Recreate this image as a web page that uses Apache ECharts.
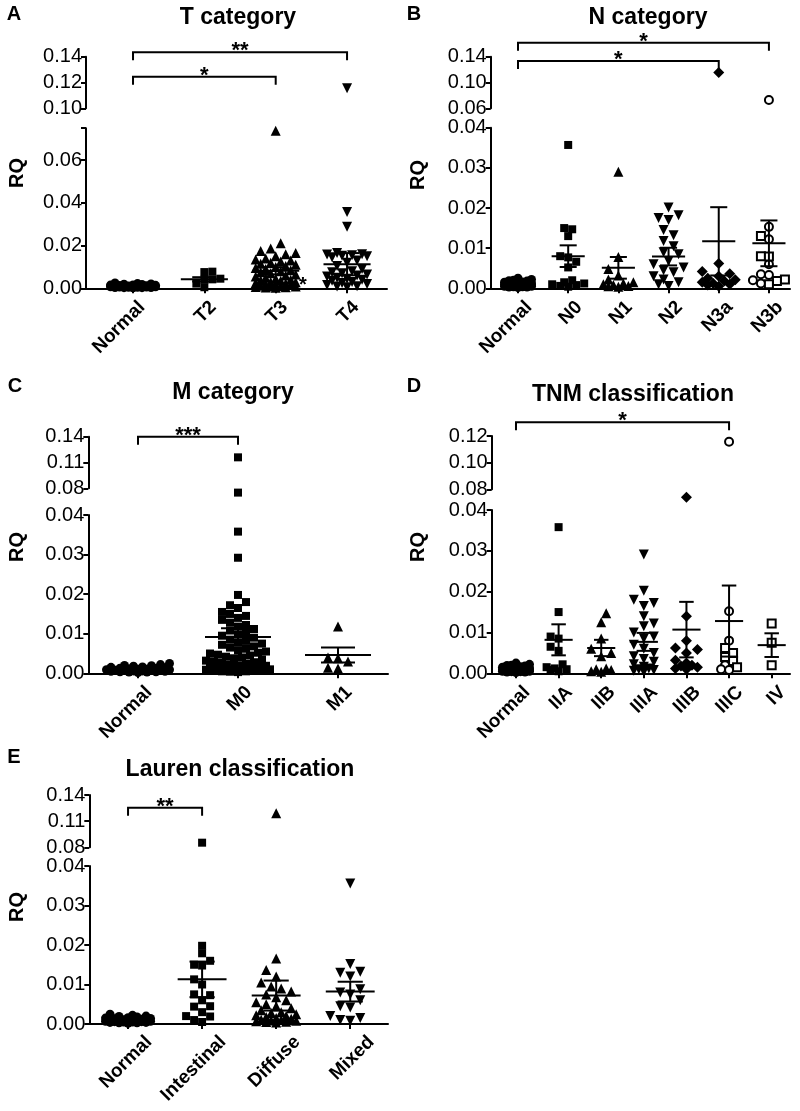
<!DOCTYPE html>
<html><head><meta charset="utf-8">
<script src="https://cdn.jsdelivr.net/npm/echarts@6/dist/echarts.min.js"></script>
<style>html,body{margin:0;padding:0;background:#fff}#c{width:800px;height:1111px}</style>
</head><body><div id="c"></div>
<script>
// ================= DATA =================
const normalRQ = [0.0025,0.0022,0.0020,0.0019,0.0018,0.0016,0.0015,0.0014,0.0013,0.0012,0.0011,0.0010,0.0010,0.0009,0.0009,0.0008,0.0008,0.0007,0.0007,0.0006,0.0006,0.0005,0.0005,0.0004,0.0004,0.0003,0.0003,0.0002];

// A - T category
const tCategories = ['Normal','T2','T3','T4'];
const tT2 = [0.0078,0.0076,0.0045,0.0042,0.0040,0.0022,0.0005];
const tT3 = [0.0738,0.0211,0.0187,0.0175,0.0165,0.0160,0.0150,0.0140,0.0135,0.0130,0.0125,0.0120,0.0115,0.0110,0.0105,0.0100,0.0095,0.0090,0.0085,0.0080,0.0075,0.0070,0.0065,0.0060,0.0055,0.0050,0.0045,0.0040,0.0038,0.0035,0.0030,0.0028,0.0025,0.0022,0.0020,0.0018,0.0015,0.0012,0.0010,0.0009,0.0008,0.0006,0.0005,0.0004,0.0003];
const tT4 = [0.1155,0.0358,0.0288,0.0165,0.0160,0.0158,0.0155,0.0152,0.0150,0.0145,0.0130,0.0120,0.0105,0.0090,0.0080,0.0075,0.0070,0.0065,0.0060,0.0055,0.0050,0.0045,0.0040,0.0035,0.0030,0.0025,0.0020,0.0015,0.0010,0.0008,0.0005];
const tMeans = [0.0009,0.0042,0.0082,0.0113];
const tSems  = [0.0001,0.0010,0.0017,0.0052];
const tBrackets = [[0,3,0.1434],[0,2,0.1245]];
const tStars = ['**','*'];
const tUpperTicks = [0.10,0.12,0.14];
const tLowerTicks = [0,0.02,0.04,0.06,0.075];
const tLowerLabels = [0,0.02,0.04,0.06];

// B - N category
const nCategories = ['Normal','N0','N1','N2','N3a','N3b'];
const nN0 = [0.0357,0.0150,0.0147,0.0130,0.0080,0.0077,0.0066,0.0052,0.0020,0.0015,0.0012,0.0010,0.0008,0.0006,0.0004];
const nN1 = [0.0290,0.0078,0.0048,0.0032,0.0022,0.0015,0.0012,0.0010,0.0008,0.0006,0.0005,0.0004];
const nN2 = [0.0201,0.0182,0.0175,0.0170,0.0145,0.0132,0.0118,0.0105,0.0090,0.0085,0.0068,0.0060,0.0052,0.0045,0.0040,0.0030,0.0022,0.0015,0.0010,0.0006];
const nN3a = [0.1154,0.0062,0.0042,0.0036,0.0030,0.0025,0.0021,0.0018,0.0015,0.0012,0.0010,0.0008,0.0005];
const nN3bCircles = [0.0728,0.0153,0.0122,0.0060,0.0035,0.0033,0.0020,0.0012];
const nN3bSquares = [0.0130,0.0080,0.0079,0.0022,0.0018,0.0010];
const nMeans = [0.0009,0.0080,0.0051,0.0079,0.0117,0.0112];
const nSems  = [0.0001,0.0027,0.0027,0.0022,0.0085,0.0057];
const nBrackets = [[0,5,0.1616],[0,4,0.1334]];
const nStars = ['*','*'];
const nUpperTicks = [0.06,0.10,0.14];
const nLowerTicks = [0,0.01,0.02,0.03,0.04];

// C - M category
const mCategories = ['Normal','M0','M1'];
const mM0 = [0.1160,0.0750,0.0358,0.0292,0.0198,0.0180,0.0172,0.0165,0.0155,0.0150,0.0145,0.0140,0.0135,0.0128,0.0122,0.0118,0.0112,0.0108,0.0102,0.0098,0.0095,0.0090,0.0085,0.0082,0.0078,0.0075,0.0072,0.0068,0.0065,0.0062,0.0058,0.0055,0.0052,0.0050,0.0047,0.0045,0.0042,0.0040,0.0038,0.0035,0.0032,0.0030,0.0028,0.0026,0.0024,0.0022,0.0020,0.0019,0.0018,0.0016,0.0015,0.0014,0.0013,0.0012,0.0011,0.0010,0.0009,0.0008,0.0007,0.0006,0.0005,0.0005,0.0004,0.0003];
const mM1 = [0.0118,0.0040,0.0038,0.0030,0.0014,0.0012];
const mMeans = [0.0009,0.0092,0.0046];
const mSems  = [0.0001,0.0022,0.0019];
const mBrackets = [[0,1,0.140]];
const mStars = ['***'];
const mUpperTicks = [0.08,0.11,0.14];
const mLowerTicks = [0,0.01,0.02,0.03,0.04];

// D - TNM classification
const sCategories = ['Normal','IIA','IIB','IIIA','IIIB','IIIC','IV'];
const sIIA = [0.0358,0.0150,0.0090,0.0085,0.0065,0.0055,0.0022,0.0015,0.0012,0.0010,0.0008,0.0005];
const sIIB = [0.0147,0.0125,0.0085,0.0060,0.0050,0.0042,0.0012,0.0010,0.0008,0.0005,0.0004];
const sIIIA = [0.0291,0.0202,0.0180,0.0172,0.0165,0.0140,0.0122,0.0115,0.0100,0.0090,0.0085,0.0070,0.0060,0.0050,0.0042,0.0035,0.0028,0.0022,0.0016,0.0012,0.0010,0.0008,0.0006,0.0004];
const sIIIB = [0.0740,0.0140,0.0080,0.0062,0.0058,0.0050,0.0032,0.0025,0.0020,0.0018,0.0015,0.0012,0.0010];
const sIIICCircles = [0.1157,0.0152,0.0080,0.0020,0.0010,0.0008];
const sIIICSquares = [0.0062,0.0050,0.0040,0.0030,0.0015];
const sIV = [0.0122,0.0075,0.0020];
const sMeans = [0.0008,0.0082,0.0062,0.0077,0.0107,0.0128,0.0069];
const sSems  = [0.0001,0.0038,0.0020,0.0022,0.0068,0.0087,0.0029];
const sBrackets = [[0,5,0.1303]];
const sStars = ['*'];
const sUpperTicks = [0.08,0.10,0.12];
const sLowerTicks = [0,0.01,0.02,0.03,0.04];

// E - Lauren classification
const lCategories = ['Normal','Intestinal','Diffuse','Mixed'];
const lIntestinal = [0.0853,0.0198,0.0179,0.0160,0.0150,0.0148,0.0113,0.0100,0.0075,0.0073,0.0060,0.0045,0.0044,0.0030,0.0020,0.0019,0.0010,0.0005];
const lDiffuse = [0.1190,0.0166,0.0137,0.0120,0.0105,0.0095,0.0090,0.0082,0.0075,0.0068,0.0060,0.0055,0.0050,0.0045,0.0040,0.0035,0.0030,0.0028,0.0025,0.0022,0.0020,0.0018,0.0015,0.0013,0.0011,0.0010,0.0009,0.0008,0.0007,0.0006,0.0005,0.0004];
const lMixed = [0.0356,0.0152,0.0132,0.0130,0.0120,0.0088,0.0080,0.0075,0.0060,0.0045,0.0042,0.0020,0.0015,0.0010,0.0008];
const lMeans = [0.0009,0.0113,0.0072,0.0082];
const lSems  = [0.0001,0.0045,0.0038,0.0025];
const lBrackets = [[0,1,0.1254]];
const lStars = ['**'];
const lUpperTicks = [0.08,0.11,0.14];
const lLowerTicks = [0,0.01,0.02,0.03,0.04];

// ================= STYLE / LAYOUT =================
const FONT = '"Liberation Sans", Arial, Helvetica, sans-serif';
const DOT  = {symbol:'circle', size:9};
const SQ   = {symbol:'rect', size:8};
const TRI  = {symbol:'triangle', size:10};
const DTRI = {symbol:'triangle', size:10, rotate:180};
const DIA  = {symbol:'diamond', size:11};
const OCIR = {symbol:'circle', size:8, hollow:true};
const OSQ  = {symbol:'rect', size:8, hollow:true};

const panels = [
  {letter:'A', title:'T category', cats:tCategories,
   groups:[[{v:normalRQ,s:DOT}],[{v:tT2,s:SQ}],[{v:tT3,s:TRI}],[{v:tT4,s:DTRI}]],
   means:tMeans, sems:tSems, brackets:tBrackets, stars:tStars,
   upTicks:tUpperTicks, lowTicks:tLowerTicks, lowLabels:tLowerLabels,
   left:86, right:387, xMin:-0.659, xMax:3.56,
   upTop:56.7, upBottom:108.3, upMin:0.10, upMax:0.14,
   lowTop:128.2, lowBottom:288.3, lowMin:0, lowMax:0.075,
   titlePos:[238,18], letterPos:[14,14], rqPos:[17,173], lbl:[9,16],
   notes:[[2.38,0.0013,'*']]},
  {letter:'B', title:'N category', cats:nCategories,
   groups:[[{v:normalRQ,s:DOT}],[{v:nN0,s:SQ}],[{v:nN1,s:TRI}],[{v:nN2,s:DTRI}],[{v:nN3a,s:DIA}],[{v:nN3bCircles,s:OCIR},{v:nN3bSquares,s:OSQ}]],
   means:nMeans, sems:nSems, brackets:nBrackets, stars:nStars,
   upTicks:nUpperTicks, lowTicks:nLowerTicks, lowLabels:nLowerTicks,
   left:490.7, right:790, xMin:-0.544, xMax:5.42,
   upTop:56.7, upBottom:108.3, upMin:0.06, upMax:0.14,
   lowTop:127.7, lowBottom:288.3, lowMin:0, lowMax:0.04,
   titlePos:[648,18], letterPos:[414,14], rqPos:[418,175], lbl:[11,16], notes:[]},
  {letter:'C', title:'M category', cats:mCategories,
   groups:[[{v:normalRQ,s:DOT}],[{v:mM0,s:SQ}],[{v:mM1,s:TRI}]],
   means:mMeans, sems:mSems, brackets:mBrackets, stars:mStars,
   upTicks:mUpperTicks, lowTicks:mLowerTicks, lowLabels:mLowerTicks,
   left:88.3, right:388, xMin:-0.497, xMax:2.5,
   upTop:436.7, upBottom:488.3, upMin:0.08, upMax:0.14,
   lowTop:515, lowBottom:673.3, lowMin:0, lowMax:0.04,
   titlePos:[233,393], letterPos:[15,386], rqPos:[17,547], lbl:[11,16], notes:[]},
  {letter:'D', title:'TNM classification', cats:sCategories,
   groups:[[{v:normalRQ,s:DOT}],[{v:sIIA,s:SQ}],[{v:sIIB,s:TRI}],[{v:sIIIA,s:DTRI}],[{v:sIIIB,s:DIA}],[{v:sIIICCircles,s:OCIR},{v:sIIICSquares,s:OSQ}],[{v:sIV,s:OSQ}]],
   means:sMeans, sems:sSems, brackets:sBrackets, stars:sStars,
   upTicks:sUpperTicks, lowTicks:sLowerTicks, lowLabels:sLowerTicks,
   left:491.7, right:790, xMin:-0.57, xMax:6.43,
   upTop:436, upBottom:489.3, upMin:0.08, upMax:0.12,
   lowTop:510, lowBottom:673.3, lowMin:0, lowMax:0.04,
   titlePos:[633,395], letterPos:[414,386], rqPos:[418,547], lbl:[11,16], notes:[]},
  {letter:'E', title:'Lauren classification', cats:lCategories,
   groups:[[{v:normalRQ,s:DOT}],[{v:lIntestinal,s:SQ}],[{v:lDiffuse,s:TRI}],[{v:lMixed,s:DTRI}]],
   means:lMeans, sems:lSems, brackets:lBrackets, stars:lStars,
   upTicks:lUpperTicks, lowTicks:lLowerTicks, lowLabels:lLowerTicks,
   left:89.3, right:388, xMin:-0.523, xMax:3.51,
   upTop:795, upBottom:847.3, upMin:0.08, upMax:0.14,
   lowTop:866, lowBottom:1024, lowMin:0, lowMax:0.04,
   titlePos:[240,770], letterPos:[14,757], rqPos:[17,907], lbl:[21,15], notes:[]}
];

// deterministic beeswarm layout (pixel space) -> x offsets in category units
function swarm(items, pxCat, pxVal, maxHalf) {
  const order = items.map((_, i) => i).sort((a, b) => items[a].v - items[b].v);
  const placed = [];
  const off = new Array(items.length).fill(0);
  for (const i of order) {
    const y = items[i].v * pxVal, s = items[i].size, step = s * 0.5;
    let best = 0, bestD = -1, done = false;
    for (let k = 0; k * step <= maxHalf && !done; k++) {
      let cands = k === 0 ? [0] : [k * step, -k * step];
      if (placed.length % 2) cands = cands.reverse();
      for (const x of cands) {
        let md = Infinity;
        for (const p of placed) { const d = Math.hypot(p.x - x, p.y - y); if (d < md) md = d; }
        if (md >= s * 0.9) { best = x; done = true; break; }
        if (md > bestD) { bestD = md; best = x; }
      }
    }
    placed.push({x: best, y});
    off[i] = best / pxCat;
  }
  return off;
}

const grid = [], xAxis = [], yAxis = [], series = [], graphic = [];
const axisLineStyle = {color:'#000', width:2};

panels.forEach((P, pi) => {
  const gU = pi * 2, gL = pi * 2 + 1;
  const W = P.right - P.left;
  grid.push({left:P.left, top:P.upTop, width:W, height:P.upBottom - P.upTop});
  grid.push({left:P.left, top:P.lowTop, width:W, height:P.lowBottom - P.lowTop});
  xAxis.push({gridIndex:gU, type:'value', min:P.xMin, max:P.xMax, show:false});
  xAxis.push({gridIndex:gL, type:'value', min:P.xMin, max:P.xMax,
    axisLine:{show:true, onZero:false, lineStyle:axisLineStyle},
    axisTick:{show:true, inside:false, length:5, customValues:P.cats.map((_, i) => i), lineStyle:axisLineStyle},
    axisLabel:{show:false}, splitLine:{show:false}});
  const yLab = (vals) => ({show:true, customValues:vals, formatter:v => v.toFixed(2), fontSize:20, fontFamily:FONT, color:'#000', margin:4});
  yAxis.push({gridIndex:gU, type:'value', min:P.upMin, max:P.upMax,
    axisLine:{show:true, onZero:false, lineStyle:axisLineStyle},
    axisTick:{show:true, inside:false, length:5, customValues:P.upTicks, lineStyle:axisLineStyle},
    axisLabel:yLab(P.upTicks), splitLine:{show:false}});
  yAxis.push({gridIndex:gL, type:'value', min:P.lowMin, max:P.lowMax,
    axisLine:{show:true, onZero:false, lineStyle:axisLineStyle},
    axisTick:{show:true, inside:false, length:5, customValues:P.lowTicks, lineStyle:axisLineStyle},
    axisLabel:yLab(P.lowLabels), splitLine:{show:false}});

  const pxCat = W / (P.xMax - P.xMin);
  const pxVal = (P.lowBottom - P.lowTop) / (P.lowMax - P.lowMin);

  P.groups.forEach((sets, gi) => {
    const items = [];
    sets.forEach((set, si) => set.v.forEach(v => { if (v <= P.lowMax) items.push({v, size:set.s.size, si}); }));
    const off = swarm(items, pxCat, pxVal, 0.33 * pxCat);
    sets.forEach((set, si) => {
      const low = [], up = [];
      items.forEach((it, k) => { if (it.si === si) low.push([gi + off[k], it.v]); });
      set.v.forEach(v => { if (v > P.lowMax) up.push([gi, v]); });
      const style = set.s.hollow ? {color:'#fff', borderColor:'#000', borderWidth:2, opacity:1} : {color:'#000', opacity:1};
      const base = {type:'scatter', symbol:set.s.symbol, symbolSize:set.s.size, symbolRotate:set.s.rotate || 0,
        itemStyle:style, clip:false, silent:true, animation:false, z:2};
      series.push(Object.assign({}, base, {xAxisIndex:gL, yAxisIndex:gL, data:low}));
      if (up.length) series.push(Object.assign({}, base, {xAxisIndex:gU, yAxisIndex:gU, data:up}));
    });
  });

  // mean +/- SEM
  series.push({type:'custom', xAxisIndex:gL, yAxisIndex:gL, clip:false, silent:true, animation:false, z:5,
    data:P.cats.map((_, i) => [i, P.means[i], P.sems[i]]),
    renderItem:(params, api) => {
      const x = api.value(0), m = api.value(1), s = api.value(2);
      const c = api.coord([x, m]), hi = api.coord([x, m + s]), lo = api.coord([x, m - s]);
      const sp = api.size([1, 0])[0], hw = sp * 0.33, cw = sp * 0.17;
      const st = {stroke:'#000', lineWidth:2};
      return {type:'group', children:[
        {type:'line', shape:{x1:c[0] - hw, y1:c[1], x2:c[0] + hw, y2:c[1]}, style:st},
        {type:'line', shape:{x1:c[0], y1:hi[1], x2:c[0], y2:lo[1]}, style:st},
        {type:'line', shape:{x1:c[0] - cw, y1:hi[1], x2:c[0] + cw, y2:hi[1]}, style:st},
        {type:'line', shape:{x1:c[0] - cw, y1:lo[1], x2:c[0] + cw, y2:lo[1]}, style:st}
      ]};
    }});

  // significance brackets
  series.push({type:'custom', xAxisIndex:gU, yAxisIndex:gU, clip:false, silent:true, animation:false, z:5,
    data:P.brackets,
    renderItem:(params, api) => {
      const a = api.coord([api.value(0), api.value(2)]), b = api.coord([api.value(1), api.value(2)]);
      const drop = 8;
      return {type:'group', children:[
        {type:'polyline', shape:{points:[[a[0], a[1] + drop], [a[0], a[1]], [b[0], b[1]], [b[0], b[1] + drop]]},
         style:{stroke:'#000', lineWidth:2, fill:null}},
        {type:'text', x:(a[0] + b[0]) / 2, y:a[1] - 1,
         style:{text:P.stars[params.dataIndex], fontSize:22, fontWeight:'bold', fontFamily:FONT, fill:'#000', align:'center', verticalAlign:'middle'}}
      ]};
    }});

  // category labels (rotated)
  series.push({type:'custom', xAxisIndex:gL, yAxisIndex:gL, clip:false, silent:true, animation:false, z:5,
    data:P.cats.map((_, i) => [i, P.lowMin]),
    renderItem:(params, api) => {
      const p = api.coord([api.value(0), api.value(1)]);
      return {type:'text', x:p[0] + P.lbl[0], y:p[1] + P.lbl[1], rotation:Math.PI / 4,
        style:{text:P.cats[params.dataIndex], fontSize:19, fontWeight:'bold', fontFamily:FONT, fill:'#000', align:'right', verticalAlign:'middle'}};
    }});

  if (P.notes.length) {
    series.push({type:'custom', xAxisIndex:gL, yAxisIndex:gL, clip:false, silent:true, animation:false, z:5,
      data:P.notes.map(n => [n[0], n[1]]),
      renderItem:(params, api) => {
        const p = api.coord([api.value(0), api.value(1)]);
        return {type:'text', x:p[0], y:p[1],
          style:{text:P.notes[params.dataIndex][2], fontSize:20, fontWeight:'bold', fontFamily:FONT, fill:'#000', align:'center', verticalAlign:'middle'}};
      }});
  }

  const txt = (pos, text, size, rot) => ({type:'text', x:pos[0], y:pos[1], rotation:rot || 0, silent:true,
    style:{text, fontSize:size, fontWeight:'bold', fontFamily:FONT, fill:'#000', align:'center', verticalAlign:'middle'}});
  graphic.push(txt(P.titlePos, P.title, 23));
  graphic.push(txt(P.letterPos, P.letter, 20));
  graphic.push(txt(P.rqPos, 'RQ', 20, Math.PI / 2));
});

const chart = echarts.init(document.getElementById('c'), null, {renderer:'canvas'});
chart.setOption({backgroundColor:'#fff', animation:false, grid, xAxis, yAxis, series, graphic});
</script></body></html>
